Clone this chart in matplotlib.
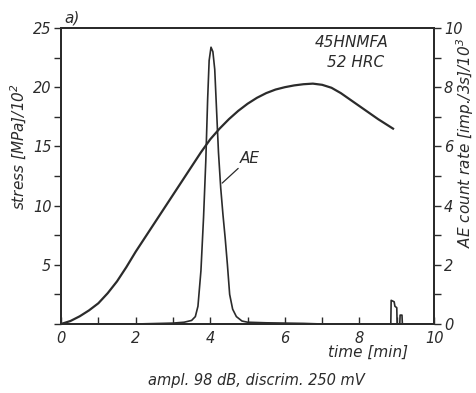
import matplotlib
matplotlib.use("Agg")
import matplotlib.pyplot as plt

# stress curve (left axis, MPa/10^2)
t_stress = [0, 0.25, 0.5, 0.75, 1.0, 1.25, 1.5, 1.75, 2.0, 2.25, 2.5, 2.75,
            3.0, 3.25, 3.5, 3.75, 4.0, 4.25, 4.5, 4.75, 5.0, 5.25, 5.5,
            5.75, 6.0, 6.25, 6.5, 6.75, 7.0, 7.25, 7.5, 7.75, 8.0, 8.25,
            8.5, 8.75, 8.9]
stress = [0, 0.25, 0.65, 1.15, 1.75, 2.6, 3.6, 4.8, 6.1, 7.3, 8.5, 9.7,
          10.9, 12.1, 13.3, 14.5, 15.6, 16.5, 17.3, 18.0, 18.6, 19.1, 19.5,
          19.8, 20.0, 20.15, 20.25, 20.3, 20.2, 19.95, 19.5, 18.95, 18.4,
          17.85, 17.3, 16.8, 16.5]

# AE count rate (right axis, imp./3s /10^3)
t_ae = [0, 1, 2, 3.0, 3.3, 3.5, 3.6, 3.67, 3.75, 3.82, 3.88, 3.93, 3.97,
        4.02, 4.07, 4.12, 4.17, 4.22, 4.28, 4.34, 4.4, 4.46, 4.52, 4.6,
        4.7, 4.85, 5.0, 5.5, 6.0, 6.5, 7.0, 8.84, 8.85, 8.93, 8.95, 9.0,
        9.01, 9.08, 9.09, 9.14, 9.15, 10]
ae = [0, 0, 0, 0.03, 0.06, 0.12, 0.25, 0.6, 1.8, 3.6, 5.5, 7.6, 8.9,
      9.35, 9.2, 8.6, 7.2, 5.8, 4.6, 3.7, 2.9, 2.0, 1.0, 0.5,
      0.25, 0.1, 0.06, 0.04, 0.03, 0.02, 0, 0, 0.8, 0.75, 0.6, 0.55,
      0, 0, 0.3, 0.3, 0, 0]

ink = "#2b2b2b"
plt.rcParams["font.family"] = "DejaVu Sans"
plt.rcParams["font.style"] = "italic"

fig = plt.figure(figsize=(4.77, 3.93), dpi=100)
ax = fig.add_axes([0.128, 0.1756, 0.782, 0.7532])
ax2 = ax.twinx()

ax.plot(t_stress, stress, color=ink, lw=1.6, zorder=3, solid_joinstyle="round")
ax2.plot(t_ae, ae, color=ink, lw=1.2)

ax.set_xlim(0, 10)
ax.set_ylim(0, 25)
ax2.set_ylim(0, 10)

ax.set_xticks(range(0, 11))
ax.set_xticklabels([str(v) if v % 2 == 0 else "" for v in range(0, 11)])
ax.set_yticks([0, 5, 10, 15, 20, 25])
ax.set_yticklabels(["", "5", "10", "15", "20", "25"])
ax.set_yticks([2.5, 7.5, 12.5, 17.5, 22.5], minor=True)
ax2.set_yticks([0, 2, 4, 6, 8, 10])
ax2.set_yticks([1, 3, 5, 7, 9], minor=True)

ax.tick_params(axis="x", direction="in", length=5, width=1, color=ink,
               labelsize=10.5, labelcolor=ink, pad=5)
ax.tick_params(axis="y", which="both", direction="out", length=5, width=1,
               color=ink, labelsize=10.5, labelcolor=ink, pad=2)
ax2.tick_params(axis="y", which="both", direction="out", length=5, width=1,
                color=ink, labelsize=10.5, labelcolor=ink, pad=2)

for a in (ax, ax2):
    for s in a.spines.values():
        s.set_color(ink)
        s.set_linewidth(1.4)

ax2.annotate("AE", xy=(4.32, 4.76), xytext=(4.78, 5.35), color=ink,
             fontsize=11, ha="left", va="bottom",
             arrowprops=dict(arrowstyle="-", color=ink, lw=0.9,
                             shrinkA=0, shrinkB=0))

ax.text(7.8, 23.8, "45HNMFA", ha="center", va="center", fontsize=11, color=ink)
ax.text(7.9, 22.1, "52 HRC", ha="center", va="center", fontsize=11, color=ink)

fig.text(0.04, 0.626, "stress [MPa]/10$^2$", rotation=90, ha="center",
         va="center", fontsize=11, color=ink)
fig.text(0.975, 0.636, "AE count rate [imp./3s]/10$^3$", rotation=90,
         ha="center", va="center", fontsize=11, color=ink)
fig.text(0.772, 0.104, "time [min]", ha="center", va="center",
         fontsize=11, color=ink)
fig.text(0.538, 0.031, "ampl. 98 dB, discrim. 250 mV", ha="center",
         va="center", fontsize=10.5, color=ink)
fig.text(0.135, 0.955, "a)", ha="left", va="center", fontsize=11, color=ink)

fig.savefig("out.png", dpi=100)
